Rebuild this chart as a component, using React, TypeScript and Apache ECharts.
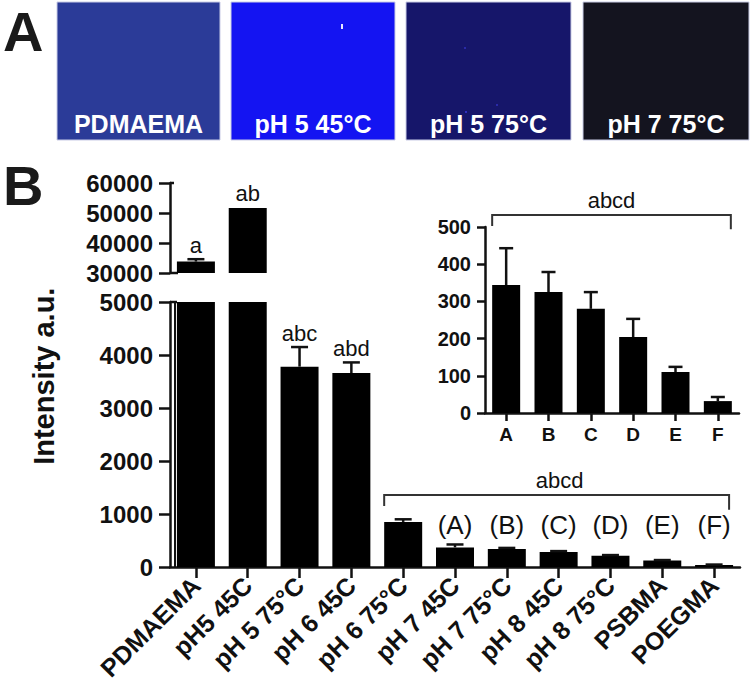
import React, { useEffect, useRef } from "react";
import * as echarts from "echarts";

const mainCategories = [
  "PDMAEMA", "pH5 45C", "pH 5 75°C", "pH 6 45C", "pH 6 75°C", "pH 7 45C",
  "pH 7 75°C", "pH 8 45C", "pH 8 75°C", "PSBMA", "POEGMA",
];
const mainValues = [33800, 51700, 3780, 3660, 850, 370, 340, 285, 210, 125, 38];
const mainErrors = [800, 0, 370, 200, 50, 55, 20, 15, 15, 6, 8];
const mainSigLabels = ["a", "ab", "abc", "abd", "", "", "", "", "", "", ""];
const groupLetters = ["", "", "", "", "", "(A)", "(B)", "(C)", "(D)", "(E)", "(F)"];
const lowerAxis = { min: 0, max: 5000, interval: 1000 };
const upperAxis = { min: 30000, max: 60000, interval: 10000 };

const insetCategories = ["A", "B", "C", "D", "E", "F"];
const insetValues = [344, 325, 280, 204, 110, 32];
const insetErrors = [99, 54, 45, 49, 14, 11];
const insetAxis = { min: 0, max: 500, interval: 100 };

const tileLabels = ["PDMAEMA", "pH 5 45°C", "pH 5 75°C", "pH 7 75°C"];
const tileColors = ["#2b3b98", "#1414f2", "#16166a", "#14141f"];

const FONT = "'Liberation Sans', Arial, Helvetica, sans-serif";
const INK = "#111111";

export default function App() {
  const ref = useRef<HTMLDivElement>(null);
  useEffect(() => {
    const chart = echarts.init(ref.current!, null, { renderer: "svg" });

    const axisLine = { show: true, onZero: false, lineStyle: { color: INK, width: 2.5 } };
    const tick = (len: number) => ({ show: true, length: len, alignWithLabel: true, lineStyle: { color: INK, width: 2.5 } });
    const plain = (v: any) => String(v);
    const lbl = (size: number, margin: number, extra: any = {}) => ({
      color: INK, fontWeight: "bold", fontSize: size, fontFamily: FONT, margin, ...extra,
    });

    const errRender = (vals: number[], errs: number[], labels: string[], capHalf: number, limit: (v: number) => boolean) =>
      (params: any, api: any) => {
        const i = api.value(0);
        const v = vals[i];
        const e = errs[i];
        if (!limit(v)) return null;
        const base = api.coord([i, v]);
        const top = api.coord([i, v + e]);
        const children: any[] = [];
        if (e > 0) {
          children.push({ type: "line", shape: { x1: base[0], y1: base[1], x2: top[0], y2: top[1] }, style: { stroke: INK, lineWidth: 2.5 } });
          children.push({ type: "line", shape: { x1: top[0] - capHalf, y1: top[1], x2: top[0] + capHalf, y2: top[1] }, style: { stroke: INK, lineWidth: 2.5 } });
        }
        const t = labels[i];
        if (t) {
          children.push({
            type: "text",
            style: { text: t, x: top[0], y: top[1] - 3, align: "center", verticalAlign: "bottom", fill: INK, fontSize: 22, fontFamily: FONT },
          });
        }
        return { type: "group", children };
      };

    const option: any = {
      animation: false,
      backgroundColor: "#ffffff",
      grid: [
        { left: 170, top: 302, width: 570, height: 265 },
        { left: 170, top: 183, width: 570, height: 90 },
        { left: 485, top: 227, width: 254, height: 186 },
      ],
      xAxis: [
        {
          gridIndex: 0, type: "category", data: mainCategories,
          axisLine, axisTick: tick(11),
          axisLabel: lbl(25, 14, { rotate: 45, interval: 0 }),
          splitLine: { show: false },
        },
        { gridIndex: 1, type: "category", data: mainCategories, show: false },
        {
          gridIndex: 2, type: "category", data: insetCategories,
          axisLine, axisTick: tick(8),
          axisLabel: lbl(19, 12, { interval: 0 }),
          splitLine: { show: false },
        },
      ],
      yAxis: [
        {
          gridIndex: 0, type: "value", ...lowerAxis,
          axisLine, axisTick: tick(11), axisLabel: lbl(24, 17, { formatter: plain }), splitLine: { show: false },
        },
        {
          gridIndex: 1, type: "value", ...upperAxis,
          axisLine, axisTick: tick(11), axisLabel: lbl(24, 17, { formatter: plain }), splitLine: { show: false },
        },
        {
          gridIndex: 2, type: "value", ...insetAxis,
          axisLine, axisTick: tick(8), axisLabel: lbl(20, 14, { formatter: plain }), splitLine: { show: false },
        },
      ],
      series: [
        {
          type: "bar", xAxisIndex: 0, yAxisIndex: 0, data: mainValues, barWidth: 38,
          itemStyle: { color: "#000" }, clip: true, silent: true,
        },
        {
          type: "bar", xAxisIndex: 1, yAxisIndex: 1,
          data: mainValues.map((v) => (v > lowerAxis.max ? v : "-")), barWidth: 38,
          itemStyle: { color: "#000" }, clip: true, silent: true,
        },
        {
          type: "custom", xAxisIndex: 0, yAxisIndex: 0,
          data: mainValues.map((v, i) => [i, v]),
          renderItem: errRender(mainValues, mainErrors, mainSigLabels, 8.5, (v) => v <= lowerAxis.max),
          silent: true, z: 5,
        },
        {
          type: "custom", xAxisIndex: 1, yAxisIndex: 1,
          data: mainValues.map((v, i) => [i, v]),
          renderItem: errRender(mainValues, mainErrors, mainSigLabels, 8.5, (v) => v > lowerAxis.max),
          silent: true, z: 5,
        },
        {
          type: "bar", xAxisIndex: 2, yAxisIndex: 2, data: insetValues, barWidth: 28,
          itemStyle: { color: "#000" }, clip: true, silent: true,
        },
        {
          type: "custom", xAxisIndex: 2, yAxisIndex: 2,
          data: insetValues.map((v, i) => [i, v]),
          renderItem: errRender(insetValues, insetErrors, insetCategories.map(() => ""), 7, () => true),
          silent: true, z: 5,
        },
      ],
    };
    chart.setOption(option);

    const m = { xAxisIndex: 0, yAxisIndex: 0 };
    const u = { xAxisIndex: 1, yAxisIndex: 1 };
    const ins = { xAxisIndex: 2, yAxisIndex: 2 };
    const P = (f: any, pt: any[]) => chart.convertToPixel(f, pt) as number[];

    const graphics: any[] = [];
    // Panel A tiles
    const tileBox = [[57, 220], [231, 395], [406, 571], [583, 749]];
    tileBox.forEach(([x0, x1], i) => {
      graphics.push({
        type: "rect", shape: { x: x0, y: 2, width: x1 - x0, height: 138 },
        style: { fill: tileColors[i], stroke: "#c9cce6", lineWidth: 1 }, silent: true,
      });
      graphics.push({
        type: "text",
        style: { text: tileLabels[i], x: (x0 + x1) / 2, y: 124, align: "center", verticalAlign: "middle", fill: "#ffffff", fontSize: 25, fontWeight: "bold", fontFamily: FONT },
        silent: true,
      });
    });
    graphics.push({ type: "rect", shape: { x: 341, y: 24, width: 2, height: 5 }, style: { fill: "#e8e8ff" }, silent: true });
    graphics.push({ type: "rect", shape: { x: 465, y: 111, width: 2, height: 2 }, style: { fill: "#3030c0" }, silent: true });
    graphics.push({ type: "rect", shape: { x: 464, y: 47, width: 2, height: 2 }, style: { fill: "#2a2aa8" }, silent: true });
    graphics.push({ type: "rect", shape: { x: 496, y: 104, width: 2, height: 2 }, style: { fill: "#2a2aa8" }, silent: true });

    // Panel letters
    graphics.push({ type: "text", style: { text: "A", x: 3, y: 31, verticalAlign: "middle", fill: "#1a1a1a", fontSize: 56, fontWeight: "bold", fontFamily: FONT }, silent: true });
    graphics.push({ type: "text", style: { text: "B", x: 3, y: 185, verticalAlign: "middle", fill: "#1a1a1a", fontSize: 56, fontWeight: "bold", fontFamily: FONT }, silent: true });

    // Y axis title
    const yt = P(m, [0, 3600]);
    graphics.push({
      type: "text", x: 44, y: yt[1], rotation: Math.PI / 2,
      style: { text: "Intensity a.u.", x: 0, y: 0, align: "center", verticalAlign: "middle", fill: INK, fontSize: 29, fontWeight: "bold", fontFamily: FONT },
      silent: true,
    });

    // Axis break decorations
    const lowTop = P(m, [0, lowerAxis.max]);
    const lowBot = P(m, [0, lowerAxis.min]);
    const axX = 170;
    graphics.push({ type: "line", shape: { x1: axX + 5, y1: lowTop[1], x2: axX + 5, y2: lowBot[1] }, style: { stroke: INK, lineWidth: 2 }, silent: true });
    graphics.push({ type: "line", shape: { x1: axX, y1: lowTop[1], x2: axX + 7, y2: lowTop[1] }, style: { stroke: INK, lineWidth: 2.5 }, silent: true });
    const upBot = P(u, [0, upperAxis.min]);
    const upTop = P(u, [0, upperAxis.max]);
    graphics.push({ type: "line", shape: { x1: axX, y1: upBot[1], x2: axX + 8, y2: upBot[1] }, style: { stroke: INK, lineWidth: 2.5 }, silent: true });
    graphics.push({ type: "line", shape: { x1: axX, y1: upTop[1], x2: axX + 4, y2: upTop[1] }, style: { stroke: INK, lineWidth: 2.5 }, silent: true });

    // Main bracket
    const bL = P(m, [4, 1360]);
    const bR = P(m, [10, 1360]);
    const bLd = P(m, [4, 1150]);
    const bRd = P(m, [10, 1080]);
    const lx = bL[0] - 19;
    const rx = bR[0] + 15;
    graphics.push({
      type: "polyline",
      shape: { points: [[lx, bLd[1]], [lx, bL[1]], [rx, bR[1]], [rx, bRd[1]]] },
      style: { stroke: "#333", lineWidth: 2, fill: null }, silent: true,
    });
    graphics.push({
      type: "text",
      style: { text: "abcd", x: (lx + rx) / 2 + 3, y: bL[1] - 3, align: "center", verticalAlign: "bottom", fill: INK, fontSize: 22, fontFamily: FONT },
      silent: true,
    });
    // (A)-(F)
    groupLetters.forEach((g, i) => {
      if (!g) return;
      const p = P(m, [i, 790]);
      graphics.push({
        type: "text",
        style: { text: g, x: p[0], y: p[1], align: "center", verticalAlign: "middle", fill: INK, fontSize: 26, fontFamily: FONT },
        silent: true,
      });
    });

    // Inset bracket
    const iL = P(ins, [0, 532]);
    const iR = P(ins, [5, 532]);
    const iLd = P(ins, [0, 503]);
    const iRd = P(ins, [5, 494]);
    const ilx = iL[0] - 14;
    const irx = iR[0] + 13;
    graphics.push({
      type: "polyline",
      shape: { points: [[ilx, iLd[1]], [ilx, iL[1]], [irx, iR[1]], [irx, iRd[1]]] },
      style: { stroke: "#333", lineWidth: 2, fill: null }, silent: true,
    });
    graphics.push({
      type: "text",
      style: { text: "abcd", x: (ilx + irx) / 2, y: iL[1] - 4, align: "center", verticalAlign: "bottom", fill: INK, fontSize: 22, fontFamily: FONT },
      silent: true,
    });

    chart.setOption({ graphic: graphics });

    return () => chart.dispose();
  }, []);

  return (
    <div
      ref={ref}
      style={{ position: "fixed", left: 0, top: 0, width: 750, height: 695, background: "#fff" }}
    />
  );
}
